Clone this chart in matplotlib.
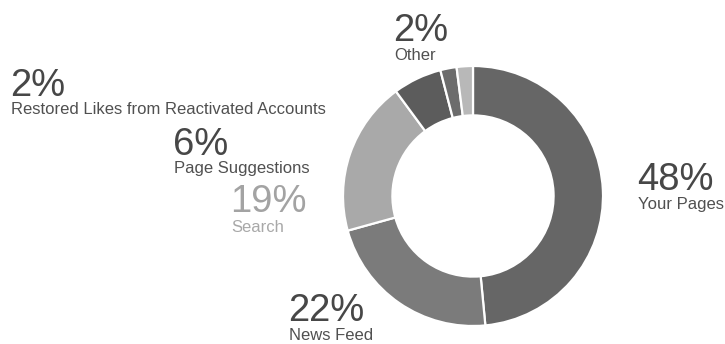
import matplotlib
matplotlib.use("Agg")
import matplotlib.pyplot as plt

# Page like sources (percent of total)
categories = ["Your Pages", "News Feed", "Search", "Page Suggestions",
              "Restored Likes from Reactivated Accounts", "Other"]
shares = [48, 22, 19, 6, 2, 2]
pct_labels = ["48%", "22%", "19%", "6%", "2%", "2%"]
colors = ["#666666", "#7b7b7b", "#a9a9a9", "#5c5c5c", "#6c6c6c", "#b8b8b8"]

W, H = 725, 344
fig = plt.figure(figsize=(W / 100, H / 100), dpi=100)
plt.rcParams["font.family"] = ["Liberation Sans", "DejaVu Sans"]

# donut axes: centre (473, 196) from top-left, outer radius 130 px
cx, cy, r = 473, 196, 130
ax = fig.add_axes([(cx - r) / W, (H - cy - r) / H, 2 * r / W, 2 * r / H])
ax.pie(shares, colors=colors, startangle=90, counterclock=False, radius=1.0,
       wedgeprops=dict(width=0.38, edgecolor="white", linewidth=1.6))
ax.set_xlim(-1, 1)
ax.set_ylim(-1, 1)
ax.set_aspect("equal")
ax.axis("off")

# label anchor (left x, percent baseline, caption baseline) in pixels from top
label_pos = {
    "Your Pages": (637, 190, 209),
    "News Feed": (288, 321, 340),
    "Search": (230, 212, 232),
    "Page Suggestions": (173, 155, 173),
    "Restored Likes from Reactivated Accounts": (10, 96, 114),
    "Other": (393, 41, 60),
}

for name, pct in zip(categories, pct_labels):
    x, yb, yc = label_pos[name]
    light = name == "Search"
    pc = "#a3a3a3" if light else "#474747"
    cc = "#a8a8a8" if light else "#505050"
    fig.text(x / W, 1 - yb / H, pct, fontsize=27.5, color=pc,
             ha="left", va="baseline")
    fig.text((x + 1) / W, 1 - yc / H, name, fontsize=12.0, color=cc,
             ha="left", va="baseline")

fig.savefig("out.png", dpi=100, facecolor="white")
